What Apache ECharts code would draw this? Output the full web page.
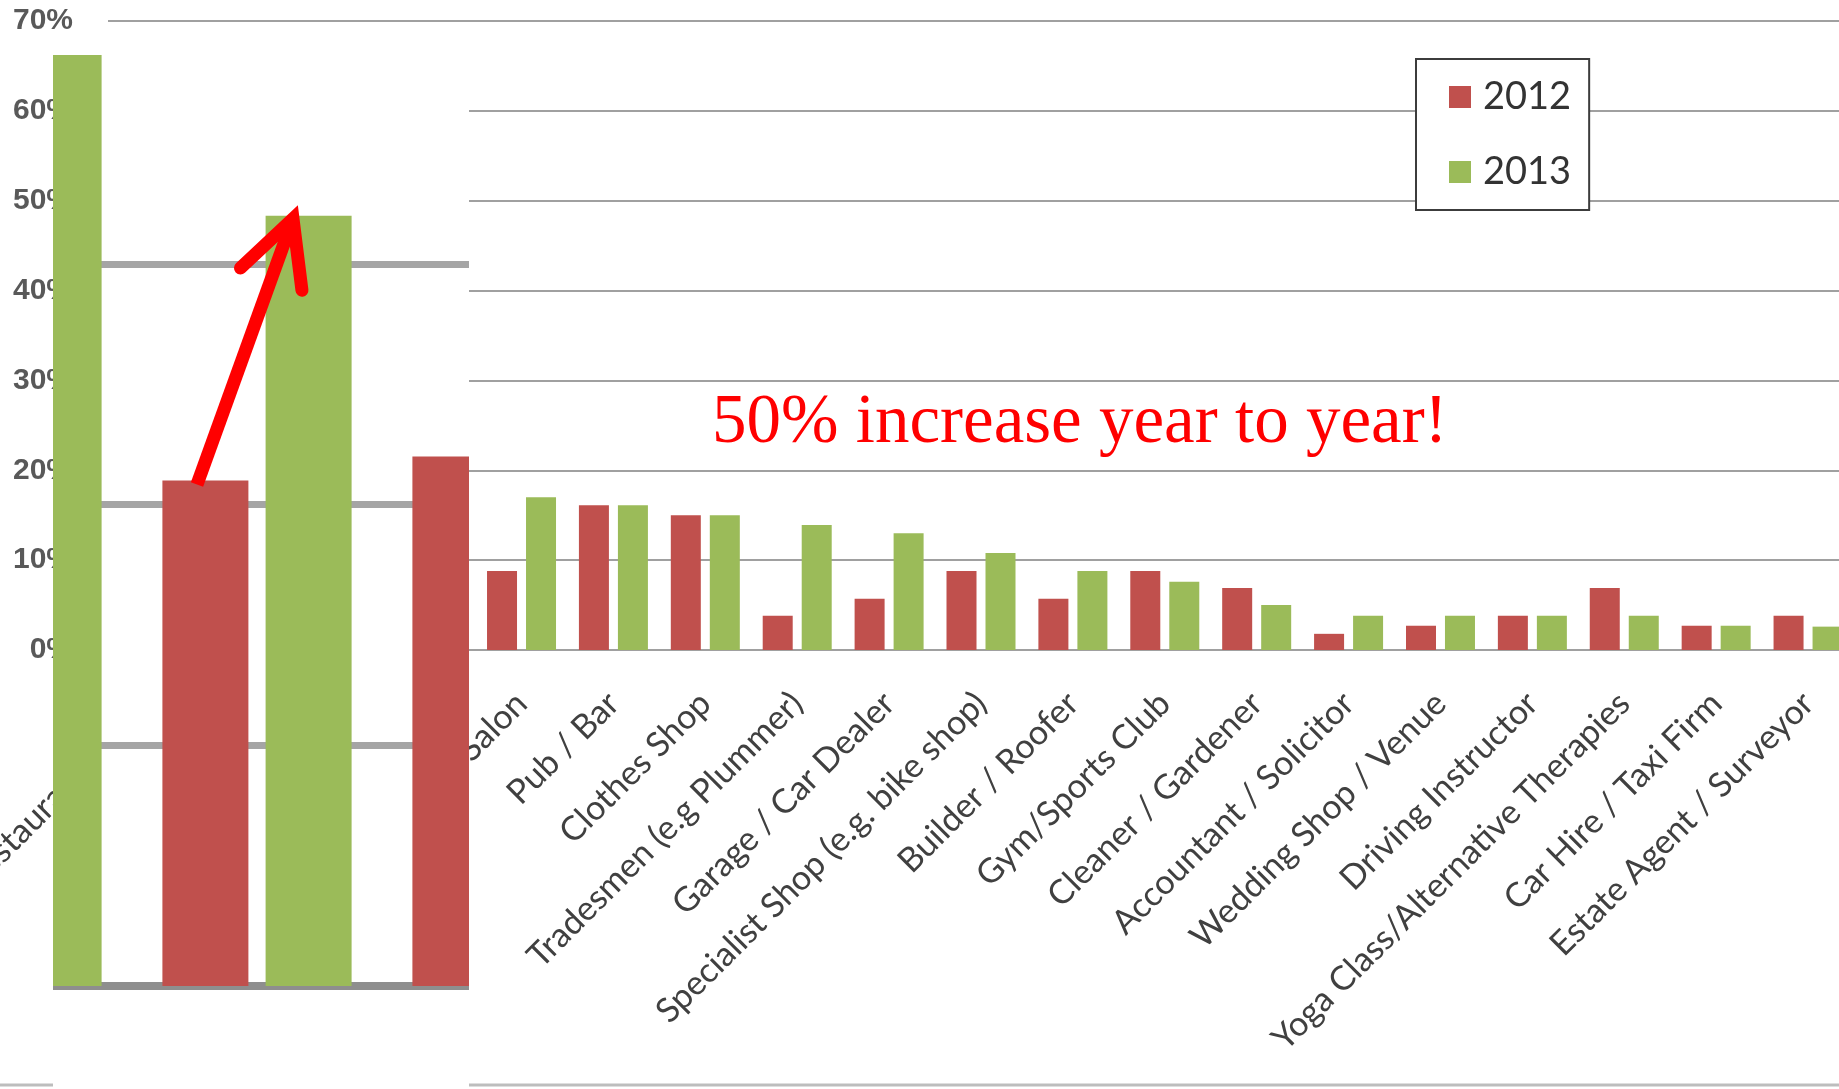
<!DOCTYPE html>
<html>
<head>
<meta charset="utf-8">
<script src="https://cdn.jsdelivr.net/npm/echarts@6/dist/echarts.min.js"></script>
<style>
  html, body { margin: 0; padding: 0; background: #fff; }
  #chart { position: absolute; left: 0; top: 0; width: 1839px; height: 1089px; }
  /* zoomed panel laid over the first categories */
  #inset { position: absolute; left: 53px; top: 55px; width: 416px; height: 1034px; overflow: hidden; background: #fff; }
</style>
</head>
<body>
<div id="chart"></div>
<div id="inset"></div>
<script>
// categories (first four are hidden behind the zoomed panel)
const categories = [
  'Restaurant / Cafe', 'Takeaway', 'Hairdresser / Barber', 'Florist / Gift Shop',
  'Beauty / Nail Salon', 'Pub / Bar', 'Clothes Shop', 'Tradesmen (e.g Plummer)',
  'Garage / Car Dealer', 'Specialist Shop (e.g. bike shop)', 'Builder / Roofer',
  'Gym/Sports Club', 'Cleaner / Gardener', 'Accountant / Solicitor',
  'Wedding Shop / Venue', 'Driving Instructor', 'Yoga Class/Alternative Therapies',
  'Car Hire / Taxi Firm', 'Estate Agent / Surveyor'
];
const values2012 = [45, 21, 22, 12, 8.8, 16.1, 15.0, 3.8, 5.7, 8.8, 5.7, 8.8, 6.9, 1.8, 2.7, 3.8, 6.9, 2.7, 3.8];
const values2013 = [64, 32, 26, 19, 17.0, 16.1, 15.0, 13.9, 13.0, 10.8, 8.8, 7.6, 5.0, 3.8, 3.8, 3.8, 3.8, 2.7, 2.6];
const yMax = 70;
const yStep = 10;
const annotation = '50% increase year to year!';
const highlightIndex = 1; // category the arrow points at in the zoomed panel

const RED = '#c0504d';
const GREEN = '#9bbb59';

// ---------- main chart ----------
const chart = echarts.init(document.getElementById('chart'));

chart.setOption({
  animation: false,
  backgroundColor: '#fff',
  grid: { left: 108, top: 21, width: 1746, height: 629, outerBoundsMode: 'none', containLabel: false },
  legend: {
    data: ['2012', '2013'],
    orient: 'vertical',
    left: 1416,
    top: 59,
    padding: [18, 18, 18, 33],
    itemGap: 35,
    itemWidth: 22,
    itemHeight: 22,
    icon: 'rect',
    borderColor: '#3c3c3c',
    borderWidth: 2,
    backgroundColor: '#fff',
    textStyle: { fontSize: 38, fontFamily: 'Lato', color: '#333', lineHeight: 40, padding: [0, 0, 0, 7] }
  },
  xAxis: {
    type: 'category',
    data: categories,
    axisLine: { lineStyle: { color: '#a0a0a0', width: 2 } },
    axisTick: { show: false },
    axisLabel: { interval: 0, rotate: 45, margin: 48, fontSize: 34, fontFamily: 'Lato', color: '#404040' }
  },
  yAxis: {
    type: 'value',
    min: 0,
    max: yMax,
    interval: yStep,
    axisLine: { show: false },
    axisTick: { show: false },
    axisLabel: { formatter: '{value}%', margin: 35, fontSize: 30, fontWeight: 'bold', fontFamily: 'Liberation Sans', color: '#595959' },
    splitLine: { lineStyle: { color: '#a0a0a0', width: 2 } }
  },
  series: [
    { name: '2012', type: 'bar', barWidth: 30, barGap: '30%', itemStyle: { color: RED }, data: values2012 },
    { name: '2013', type: 'bar', barWidth: 30, barGap: '30%', itemStyle: { color: GREEN }, data: values2013 }
  ],
  graphic: [
    {
      type: 'line',
      shape: { x1: 0, y1: 1085, x2: 1839, y2: 1085 },
      style: { stroke: '#bdbdbd', lineWidth: 3 }
    },
    {
      type: 'text', z: 10,
      left: 712, top: 389,
      style: { text: annotation, fill: '#ff0000', font: '69px "Liberation Serif"' }
    }
  ]
});

// ---------- zoomed panel: same data, magnified ----------
const inset = echarts.init(document.getElementById('inset'));

const insetBase = 931;        // y of 0% inside the panel
const insetPxPerUnit = 24.07; // px per 1%
const insetCatPx = 250;       // px per category
const insetCenterPx = 204;    // x of highlighted category inside the panel
const insetLeft = insetCenterPx - (highlightIndex + 0.5) * insetCatPx;

inset.setOption({
  animation: false,
  backgroundColor: '#fff',
  grid: {
    left: insetLeft, top: 0,
    width: insetCatPx * categories.length, height: insetBase,
    outerBoundsMode: 'none', containLabel: false
  },
  xAxis: {
    type: 'category',
    data: categories,
    axisLine: { lineStyle: { color: '#8e8e8e', width: 8 } },
    axisTick: { show: false },
    axisLabel: { show: false }
  },
  yAxis: {
    type: 'value',
    min: 0,
    max: insetBase / insetPxPerUnit,
    interval: yStep,
    axisLine: { show: false },
    axisTick: { show: false },
    axisLabel: { show: false },
    splitLine: { show: true, showMinLine: false, showMaxLine: false, lineStyle: { color: '#a5a5a5', width: 7 } }
  },
  series: [
    { name: '2012', type: 'bar', barWidth: 86, barGap: '20%', itemStyle: { color: RED }, data: values2012 },
    { name: '2013', type: 'bar', barWidth: 86, barGap: '20%', itemStyle: { color: GREEN }, data: values2013 }
  ]
});

// arrow from the 2012 bar top to the 2013 bar top
const pRed = inset.convertToPixel({ seriesIndex: 0 }, [highlightIndex, values2012[highlightIndex]]);
const pGreen = inset.convertToPixel({ seriesIndex: 1 }, [highlightIndex, values2013[highlightIndex]]);
const tail = [pRed[0] - 60, pRed[1] + 4];
const tip = [pGreen[0] + 36, pGreen[1] + 3];
const ang = Math.atan2(tail[1] - tip[1], tail[0] - tip[0]);
const barb = 72, spread = 27 * Math.PI / 180;
const barbL = [tip[0] + barb * Math.cos(ang + spread), tip[1] + barb * Math.sin(ang + spread)];
const barbR = [tip[0] + barb * Math.cos(ang - spread), tip[1] + barb * Math.sin(ang - spread)];

inset.setOption({
  graphic: [
    {
      type: 'line', z: 10,
      shape: { x1: tail[0], y1: tail[1], x2: tip[0], y2: tip[1] },
      style: { stroke: '#ff0000', lineWidth: 13 }
    },
    {
      type: 'polyline', z: 10,
      shape: { points: [barbL, tip, barbR] },
      style: { stroke: '#ff0000', lineWidth: 13, fill: null, lineJoin: 'miter', lineCap: 'round' }
    }
  ]
});
</script>
</body>
</html>
